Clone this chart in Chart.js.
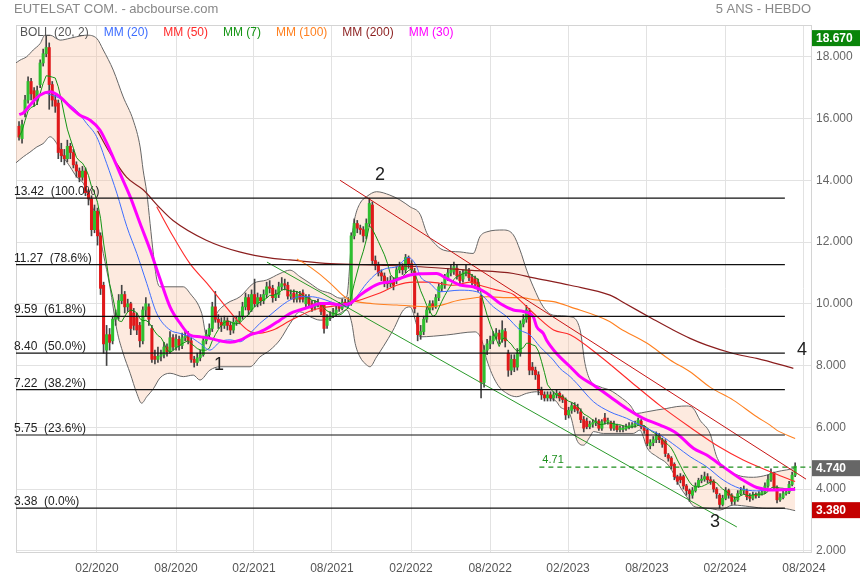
<!DOCTYPE html>
<html>
<head>
<meta charset="utf-8">
<title>EUTELSAT COM. - 5 ANS - HEBDO</title>
<script src="https://cdn.jsdelivr.net/npm/chart.js@4.4.1/dist/chart.umd.min.js"></script>
<style>
  html, body { margin: 0; padding: 0; background: #fff; }
  #wrap { width: 860px; height: 580px; }
</style>
</head>
<body>
<div id="wrap"><canvas id="myChart" width="860" height="580"></canvas></div>
<script>
// weekly candles, week 0 = early Aug 2019
const opens = [
  15.75, 15.35, 16.20, 16.60, 17.20, 16.90, 16.60, 17.10, 17.80, 18.10,
  18.30, 17.10, 16.60, 16.50, 15.00, 14.80, 14.70, 15.10, 14.90, 14.50,
  14.30, 14.10, 14.30, 13.60, 13.40, 12.40, 13.00, 12.20, 10.60, 8.50,
  9.00, 8.80, 9.50, 9.60, 10.10, 10.30, 9.90, 10.00, 9.70, 9.55,
  9.30, 8.80, 9.80, 9.90, 9.20, 8.30, 8.20, 8.30, 8.35, 8.60,
  8.45, 8.90, 8.60, 8.85, 8.65, 8.90, 8.95, 8.80, 8.20, 8.10,
  8.25, 8.35, 8.80, 9.00, 9.20, 9.90, 9.50, 9.40, 9.30, 9.45,
  9.30, 9.15, 9.40, 9.45, 9.60, 9.90, 10.20, 9.80, 10.30, 10.00,
  10.20, 10.10, 10.30, 10.55, 10.50, 10.20, 10.30, 10.55, 10.65, 10.60,
  10.25, 10.35, 10.15, 10.30, 10.35, 10.00, 10.20, 10.00, 9.90, 10.00,
  9.95, 9.95, 9.30, 9.55, 9.60, 9.70, 9.95, 9.85, 10.05, 10.00,
  10.00, 12.20, 12.60, 12.45, 12.40, 12.20, 12.60, 13.20, 11.40, 11.25,
  11.00, 10.90, 10.70, 10.65, 10.75, 10.75, 11.10, 11.20, 11.10, 11.50,
  11.30, 11.05, 9.60, 9.00, 9.10, 9.50, 9.80, 10.00, 9.90, 10.20,
  10.50, 10.60, 10.85, 11.00, 11.05, 11.15, 10.95, 10.80, 11.00, 11.05,
  10.85, 10.80, 10.70, 10.25, 7.45, 8.50, 8.70, 8.80, 8.95, 9.05,
  8.85, 9.10, 8.40, 7.85, 8.20, 7.95, 8.40, 9.35, 9.50, 9.75,
  7.95, 7.85, 7.70, 7.20, 7.05, 6.95, 7.05, 6.95, 7.05, 7.10,
  7.00, 6.90, 6.40, 6.55, 6.70, 6.65, 6.50, 6.25, 6.20, 6.02,
  6.10, 6.15, 6.20, 5.97, 6.30, 6.18, 6.15, 5.97, 6.05, 5.92,
  5.93, 5.95, 6.00, 6.03, 6.08, 6.10, 6.20, 6.02, 5.90, 5.40,
  5.50, 5.60, 5.72, 5.60, 5.55, 5.10, 5.00, 4.80, 4.40, 4.40,
  4.40, 4.10, 3.95, 3.80, 3.95, 4.10, 4.28, 4.32, 4.40, 4.30,
  4.25, 4.00, 3.80, 3.50, 3.70, 3.95, 3.80, 3.60, 3.65, 3.85,
  3.95, 3.95, 3.75, 3.70, 3.80, 3.78, 3.85, 3.90, 4.10, 4.30,
  4.50, 4.05, 3.65, 3.72, 3.85, 3.90, 4.15, 4.45
];
const closes = [
  15.40, 15.80, 16.60, 17.20, 16.80, 16.60, 16.90, 17.80, 18.10, 18.30,
  17.10, 16.60, 16.40, 14.90, 14.80, 14.70, 15.10, 14.90, 14.50, 14.30,
  14.10, 14.30, 13.60, 13.40, 12.40, 13.00, 12.20, 10.50, 8.70, 9.00,
  8.75, 9.50, 9.60, 10.10, 10.30, 9.90, 10.00, 9.20, 9.30, 9.15,
  8.80, 9.80, 10.00, 9.50, 8.20, 8.20, 8.30, 8.35, 8.60, 8.45,
  8.90, 8.60, 8.85, 8.65, 8.90, 8.95, 8.80, 8.20, 8.10, 8.25,
  8.35, 8.80, 9.00, 9.20, 9.90, 9.50, 9.40, 9.30, 9.45, 9.30,
  9.15, 9.40, 9.45, 9.60, 9.90, 10.20, 9.80, 10.30, 10.00, 10.20,
  10.10, 10.30, 10.55, 10.50, 10.20, 10.30, 10.55, 10.65, 10.60, 10.25,
  10.30, 10.15, 10.30, 10.15, 10.15, 10.20, 10.00, 9.85, 10.00, 10.05,
  9.75, 9.20, 9.55, 9.60, 9.70, 9.80, 9.85, 10.05, 10.00, 10.05,
  12.20, 12.60, 12.45, 12.40, 12.20, 12.60, 13.25, 11.40, 11.25, 11.00,
  10.90, 10.70, 10.65, 10.75, 10.60, 11.10, 11.20, 11.10, 11.50, 11.30,
  11.10, 9.85, 9.00, 9.10, 9.50, 9.80, 10.00, 9.90, 10.20, 10.55,
  10.60, 10.85, 11.00, 11.10, 11.20, 10.90, 10.75, 11.00, 11.10, 10.85,
  10.70, 10.65, 10.55, 7.45, 8.50, 8.70, 8.80, 8.95, 9.05, 8.85,
  9.15, 8.80, 7.85, 8.20, 7.95, 8.40, 9.35, 9.50, 9.80, 7.85,
  7.85, 7.70, 7.20, 7.05, 6.95, 7.05, 6.95, 7.05, 7.10, 6.95,
  6.90, 6.40, 6.55, 6.70, 6.60, 6.55, 6.25, 5.97, 6.02, 6.10,
  6.15, 6.20, 5.97, 6.18, 6.20, 6.22, 5.97, 6.10, 5.92, 5.98,
  5.97, 6.00, 6.05, 6.08, 6.12, 6.23, 6.02, 5.90, 5.48, 5.50,
  5.60, 5.72, 5.60, 5.45, 5.15, 5.00, 4.75, 4.40, 4.25, 4.30,
  4.10, 3.95, 3.85, 3.95, 4.10, 4.28, 4.32, 4.40, 4.30, 4.25,
  4.00, 3.85, 3.50, 3.70, 3.95, 3.80, 3.60, 3.65, 3.85, 3.95,
  4.00, 3.75, 3.70, 3.80, 3.78, 3.85, 3.90, 4.10, 4.30, 4.50,
  4.05, 3.65, 3.72, 3.85, 3.90, 4.15, 4.45, 4.74
];
const highs = [
  15.90, 15.95, 16.75, 17.35, 17.30, 17.00, 17.05, 17.90, 18.25, 18.67,
  18.45, 17.20, 16.75, 16.60, 15.20, 15.00, 15.30, 15.20, 15.00, 14.60,
  14.40, 14.45, 14.40, 13.70, 13.50, 13.20, 13.10, 12.30, 10.70, 9.30,
  9.20, 9.60, 9.80, 10.30, 10.60, 10.40, 10.15, 10.05, 9.85, 9.70,
  9.40, 9.90, 10.20, 10.00, 9.30, 8.50, 8.60, 8.50, 8.75, 8.70,
  9.10, 9.00, 9.00, 8.95, 9.05, 9.15, 9.10, 8.90, 8.30, 8.40,
  8.50, 8.95, 9.15, 9.35, 10.05, 10.40, 9.65, 9.55, 9.60, 9.55,
  9.40, 9.55, 9.60, 9.75, 10.05, 10.35, 10.30, 10.45, 10.80, 10.35,
  10.30, 10.45, 10.70, 10.75, 10.60, 10.45, 10.70, 10.85, 10.80, 10.70,
  10.45, 10.45, 10.40, 10.40, 10.45, 10.30, 10.30, 10.10, 10.10, 10.15,
  10.05, 10.00, 9.65, 9.75, 9.85, 9.95, 10.05, 10.15, 10.15, 10.20,
  12.30, 12.75, 12.70, 12.55, 12.50, 12.75, 13.42, 13.30, 11.55, 11.35,
  11.10, 11.00, 10.85, 10.90, 10.85, 11.20, 11.35, 11.30, 11.60, 11.55,
  11.40, 11.15, 9.70, 9.30, 9.60, 9.90, 10.10, 10.10, 10.30, 10.65,
  10.70, 10.95, 11.15, 11.25, 11.35, 11.25, 11.05, 11.10, 11.25, 11.15,
  10.95, 10.90, 10.80, 10.30, 8.65, 8.85, 8.95, 9.10, 9.20, 9.15,
  9.45, 9.20, 8.50, 8.35, 8.35, 8.55, 9.45, 9.65, 9.95, 9.85,
  8.10, 7.95, 7.80, 7.30, 7.15, 7.15, 7.15, 7.15, 7.20, 7.15,
  7.05, 6.95, 6.65, 6.80, 6.80, 6.75, 6.60, 6.35, 6.30, 6.20,
  6.25, 6.30, 6.25, 6.25, 6.45, 6.30, 6.20, 6.20, 6.10, 6.05,
  6.05, 6.10, 6.15, 6.15, 6.20, 6.30, 6.25, 6.05, 5.95, 5.60,
  5.70, 5.85, 5.80, 5.65, 5.60, 5.15, 5.05, 4.85, 4.45, 4.50,
  4.45, 4.15, 4.00, 4.05, 4.20, 4.35, 4.45, 4.55, 4.50, 4.40,
  4.30, 4.05, 3.85, 3.80, 4.05, 4.00, 3.85, 3.75, 3.95, 4.05,
  4.10, 4.00, 3.85, 3.90, 3.88, 3.92, 3.98, 4.20, 4.45, 4.65,
  4.55, 4.10, 3.85, 3.95, 4.00, 4.25, 4.55, 4.85
];
const lows = [
  15.30, 15.20, 16.05, 16.50, 16.60, 16.40, 16.45, 17.00, 17.70, 18.00,
  16.30, 16.40, 16.20, 14.70, 14.60, 14.50, 14.60, 14.70, 14.40, 14.10,
  13.95, 14.00, 13.50, 13.20, 12.20, 12.30, 11.90, 10.30, 8.40, 8.00,
  8.50, 8.70, 9.30, 9.50, 10.00, 9.70, 9.75, 9.00, 9.15, 9.00,
  8.60, 8.70, 9.60, 9.30, 8.10, 8.05, 8.10, 8.15, 8.25, 8.30,
  8.40, 8.50, 8.50, 8.50, 8.55, 8.80, 8.70, 8.10, 7.95, 8.00,
  8.15, 8.30, 8.70, 8.90, 9.10, 9.40, 9.20, 9.10, 9.20, 9.15,
  9.00, 9.05, 9.30, 9.35, 9.50, 9.80, 9.65, 9.75, 9.90, 9.90,
  9.95, 10.00, 10.20, 10.35, 10.05, 10.10, 10.20, 10.45, 10.45, 10.15,
  10.15, 10.05, 10.05, 10.05, 10.05, 9.90, 9.90, 9.75, 9.80, 9.90,
  9.65, 9.05, 9.20, 9.45, 9.55, 9.60, 9.75, 9.80, 9.90, 9.90,
  9.95, 12.10, 12.30, 12.25, 12.00, 12.10, 12.50, 11.30, 11.10, 10.90,
  10.75, 10.55, 10.50, 10.55, 10.45, 10.65, 11.00, 10.95, 11.00, 11.15,
  11.00, 9.70, 8.80, 8.85, 9.00, 9.40, 9.70, 9.80, 9.85, 10.10,
  10.40, 10.50, 10.75, 10.90, 10.95, 10.80, 10.60, 10.70, 10.90, 10.75,
  10.60, 10.50, 10.40, 6.95, 7.30, 8.35, 8.55, 8.70, 8.85, 8.70,
  8.75, 8.60, 7.65, 7.70, 7.80, 7.85, 8.30, 9.25, 9.40, 7.70,
  7.70, 7.55, 7.05, 6.90, 6.85, 6.85, 6.85, 6.85, 6.95, 6.85,
  6.80, 6.25, 6.30, 6.45, 6.50, 6.45, 6.15, 5.85, 5.95, 5.95,
  6.00, 6.05, 5.90, 5.90, 6.10, 6.10, 5.90, 5.90, 5.85, 5.85,
  5.85, 5.90, 5.95, 5.98, 6.00, 6.05, 5.95, 5.80, 5.40, 5.30,
  5.40, 5.50, 5.50, 5.35, 5.05, 4.90, 4.65, 4.30, 4.15, 4.20,
  4.00, 3.80, 3.60, 3.70, 3.90, 4.05, 4.20, 4.25, 4.20, 4.15,
  3.90, 3.70, 3.38, 3.45, 3.65, 3.70, 3.50, 3.50, 3.60, 3.80,
  3.85, 3.65, 3.60, 3.65, 3.70, 3.72, 3.80, 3.85, 4.05, 4.25,
  3.95, 3.55, 3.60, 3.68, 3.80, 3.85, 4.10, 4.40
];

// indicator lines: [week, value]
const bollUpper = [[-1.2,17.79],[0.3,17.89],[2.5,18.0],[4.7,18.22],[7,18.43],[8.6,18.7],[10.3,18.7],[13.6,18.54],[16.9,18.6],[19.1,18.65],[22.4,18.7],[25.7,18.6],[27.9,18.22],[31.2,17.57],[34.5,16.7],[37.8,15.95],[40.1,15.08],[41.1,14.33],[42.3,13.6],[43.4,12.6],[44.5,11.6],[45.6,10.8],[46.7,10.55],[54.4,10.55],[56.6,10.34],[60.5,9.69],[62.2,8.93],[65.5,9.69],[68.8,10.01],[73.2,10.23],[77.6,10.66],[82,10.77],[86.4,10.98],[89.7,11.09],[93,10.88],[96.4,10.66],[99.7,10.44],[103,10.34],[106.3,10.18],[108.5,10.23],[110.2,12.17],[111.3,12.82],[112.9,13.25],[115.1,13.47],[118.4,13.63],[122.8,13.52],[126.2,13.36],[129.5,13.14],[132.8,12.9],[135,12.3],[137.2,12.0],[140.5,11.74],[146,11.68],[150.4,11.63],[152.6,12.17],[154.9,12.33],[160.4,12.39],[163.7,12.23],[165.9,11.74],[168.1,11.09],[170.3,10.55],[173.6,9.9],[176.9,9.63],[182.5,9.58],[185.8,9.15],[187.4,8.07],[189.1,7.53],[192.4,7.31],[195.7,7.2],[199,6.99],[202.3,6.72],[204.5,6.45],[207.8,6.5],[211.2,6.56],[214.5,6.61],[217.8,6.67],[221.1,6.69],[223.3,6.61],[225.5,6.23],[228.8,5.8],[231,5.05],[233.2,4.72],[236.5,4.51],[239.8,4.4],[243.2,4.38],[247.6,4.45],[250.9,4.56],[254.2,4.62],[257,4.67]];
const bollLower = [[-1.2,14.55],[1.4,14.76],[3.6,14.91],[5.9,15.08],[8,15.19],[10.3,15.41],[12.5,15.19],[14.7,14.76],[16.9,14.44],[19.1,14.11],[21.3,13.9],[23.5,13.36],[25.7,12.71],[27.9,11.63],[30.1,10.55],[32.4,9.15],[34.5,8.39],[36.8,7.75],[39,7.1],[40.6,6.78],[42.3,6.99],[44.5,7.25],[46.7,7.6],[50,7.75],[54.4,7.64],[57.7,7.69],[59.9,7.53],[63.2,7.85],[66.6,7.96],[76.5,7.96],[79.8,8.28],[83.1,8.5],[86.4,8.83],[89.7,9.35],[93,9.74],[96.4,9.58],[99.7,9.47],[103,9.52],[106.3,9.69],[108.5,9.8],[110.2,9.37],[111.3,8.72],[112.9,8.28],[115.1,8.02],[116.2,7.96],[118.4,8.28],[120.6,8.61],[123.9,9.15],[127.3,9.8],[129.5,9.9],[131.7,9.3],[132.8,8.93],[141.6,8.99],[151,9.09],[153.2,8.83],[154.9,8.18],[158.2,7.42],[161.5,7.1],[164.8,6.99],[168.1,7.1],[171.4,7.15],[174.7,6.99],[178,6.83],[179.1,6.67],[182.5,6.4],[184.7,5.59],[186.9,5.42],[189.1,5.7],[190.2,5.86],[193.5,5.8],[203.4,5.8],[205.6,5.91],[206.7,5.7],[207.8,5.37],[211.2,5.05],[214.5,4.83],[216.7,4.51],[218.9,4.07],[221.1,3.75],[223.3,3.45],[225.5,3.4],[228.8,3.37],[232.1,3.32],[236.5,3.48],[242,3.43],[247.6,3.37],[253.1,3.37],[257,3.3]];
const mm20 = [[8,16.85],[13.6,16.65],[19.1,16.25],[22.4,15.84],[25.7,15.41],[29,14.55],[32.4,13.58],[35.7,12.5],[39,11.63],[42.3,10.66],[45.6,9.69],[50,9.15],[53.3,9.04],[56.6,8.93],[59.9,8.72],[63.2,8.5],[66.6,8.77],[69.9,8.83],[73.2,8.77],[76.5,9.04],[79.8,9.37],[83.1,9.63],[86.4,9.9],[89.7,10.12],[93,10.23],[96.4,10.23],[99.7,10.18],[103,10.07],[106.3,9.96],[108.5,9.9],[111.8,10.23],[115.1,10.66],[118.4,10.98],[121.8,11.15],[125.1,11.2],[128.9,11.5],[131.7,11.2],[132.8,10.9],[136.1,10.66],[139.4,10.39],[146,10.44],[151.6,10.39],[157.1,9.9],[161.5,9.58],[165.9,9.15],[169.2,8.99],[172.5,8.61],[176.9,8.18],[179.1,7.91],[182.5,7.64],[184.7,7.42],[190.2,6.83],[195.7,6.5],[201.2,6.29],[206.7,6.02],[212.3,5.75],[217.8,5.37],[222.2,5.05],[227.7,4.72],[233.2,4.29],[238.7,4.02],[244.3,3.94],[249.8,3.97],[257,3.97]];
const mm30 = [[0.1,16.13],[1.4,16.18],[3.6,16.43],[7,16.76],[10.3,16.87],[13.6,16.7],[16.9,16.38],[20.2,16.11],[23.5,15.95],[26.8,15.63],[30.1,14.98],[33.4,14.23],[36.8,13.47],[40.1,12.6],[43.4,11.75],[46.7,10.8],[50,9.9],[53.3,9.37],[56.6,8.99],[59.9,8.93],[63.2,8.88],[66.6,8.8],[69.9,8.75],[73.2,8.82],[76.5,8.99],[79.8,9.09],[83.1,9.26],[86.4,9.47],[89.7,9.68],[93,9.8],[96.4,9.9],[99.7,10.01],[103,10.01],[106.3,9.96],[109.6,10.01],[112.9,10.28],[116.2,10.5],[119.5,10.66],[122.8,10.71],[126.2,10.82],[129.5,10.93],[132.8,10.97],[138.3,10.98],[141.6,10.82],[146,10.61],[150.4,10.55],[154.9,10.34],[159.3,10.01],[163.7,9.8],[167,9.75],[170.3,9.58],[171.4,9.26],[173.6,9.04],[174.7,8.82],[178,8.39],[182.5,7.96],[185.8,7.64],[190.2,7.37],[195.7,6.99],[201.2,6.61],[206.7,6.29],[212.3,6.07],[217.8,5.8],[223.3,5.32],[227.7,5.1],[233.2,4.72],[238.7,4.35],[244.3,4.05],[249.8,3.97],[257,3.99]];
const mm50 = [[45.6,13.14],[51.1,12.17],[56.6,11.3],[62.2,10.67],[67.7,10.0],[73.2,9.37],[76.5,9.1],[79.8,9.05],[84.1,9.15],[89.7,9.45],[97.4,9.8],[108.5,10.0],[119.5,10.35],[125.1,10.6],[130.5,10.7],[136.1,10.7],[143.8,10.6],[149.3,10.7],[152.6,10.6],[158,10.45],[163.7,10.3],[166,10.1],[171.4,9.6],[177,9.15],[182.5,9.0],[192.4,8.3],[202.3,7.5],[212.3,6.7],[222.2,6.0],[232.1,5.35],[239.8,4.94],[249.8,4.52],[257,4.24]];
const mm100 = [[92,11.45],[94.7,11.3],[99,11.0],[103,10.67],[108.5,10.18],[117.2,10.0],[125.1,9.96],[136.1,9.9],[146,10.12],[155,10.23],[160.4,10.2],[166,10.2],[171.4,10.12],[177,10.07],[182.5,9.9],[195.7,9.42],[199,9.2],[208,8.72],[215.6,8.18],[222.2,7.8],[228.8,7.3],[236.5,6.88],[244.3,6.34],[248.7,6.07],[251,5.9],[257,5.64]];
const mm200 = [[26,15.6],[30,14.9],[35.6,14.1],[41,13.7],[46.7,13.1],[51,12.7],[62,12.06],[73,11.68],[84,11.47],[89.7,11.42],[103,11.3],[119.5,11.25],[132.8,11.2],[149,11.09],[163.7,10.98],[170,10.85],[182.5,10.6],[195.7,10.28],[200,10.05],[210,9.5],[216.6,9.15],[222.2,8.88],[227.7,8.66],[236.5,8.39],[244.3,8.23],[256.4,7.91]];

// drawing tools
const fibLevels = [13.42, 11.27, 9.59, 8.40, 7.22, 5.75, 3.38];
const fibPcts = [100.0, 78.6, 61.8, 50.0, 38.2, 23.6, 0.0];
const fibWeeks = [-1, 253.6];
const redTrend = [[106.3, 14.0], [260.6, 4.32]];
const greenTrend = [[82.1, 11.35], [237.7, 2.77]];
const lastMark = 4.71;
const lastMarkWeeks = [172.3, 262.2];
const waveLabels = ['1', '2', '3', '4'];
const waveWeeks = [66.2, 119.5, 230.5, 259.3];
const waveValues = [8.0, 14.17, 2.93, 8.5];

// axes
const dateTicks = [25.8, 52.0, 77.8, 103.6, 129.8, 156.0, 181.8, 207.9, 233.8, 259.9];
const dateLabels = ['02/2020', '08/2020', '02/2021', '08/2021', '02/2022', '08/2022', '02/2023', '08/2023', '02/2024', '08/2024'];
const priceTicks = [2, 4, 6, 8, 10, 12, 14, 16, 18];
const legendNames = ['BOLL (20, 2)', 'MM (20)', 'MM (50)', 'MM (7)', 'MM (100)', 'MM (200)', 'MM (30)'];
const priceHigh = 18.67, priceLast = 4.74, priceLow = 3.38;

const FONT = 'Arial, "Liberation Sans", sans-serif';
const C = {
  boll: '#666666', mm20: '#3d6dff', mm50: '#ff2a2a', mm7: '#149414',
  mm100: '#ff8020', mm200: '#8b1e1e', mm30: '#ff00ff',
  up: '#2fbf2f', down: '#e0191b'
};
const legendColors = ['#555555', C.mm20, C.mm50, C.mm7, C.mm100, C.mm200, C.mm30];

Chart.defaults.font.family = FONT;
Chart.defaults.font.size = 12;

const pts = arr => arr.map(([w, v]) => ({ x: w, y: v }));
const line = (label, arr, color, width, order, extra) => Object.assign({
  type: 'line', label, data: pts(arr), borderColor: color, borderWidth: width,
  pointRadius: 0, fill: false, cubicInterpolationMode: 'monotone', order
}, extra || {});

// MM(7) from the weekly closes
const mm7 = closes.map((c, i) => {
  const s = closes.slice(Math.max(0, i - 6), i + 1);
  return [i, s.reduce((a, b) => a + b, 0) / s.length];
});

const candleColor = ctx => closes[ctx.dataIndex] >= opens[ctx.dataIndex] ? C.up : C.down;

const datasets = [
  line('BOLL haut', bollUpper, C.boll, 1, 20, { fill: '+1', backgroundColor: 'rgba(248,190,155,0.32)' }),
  line('BOLL bas', bollLower, C.boll, 1, 19),
  {
    type: 'bar', label: 'mèches', grouped: false, order: 12, barThickness: 1,
    data: closes.map((c, i) => ({ x: i, y: [lows[i], highs[i]] })),
    backgroundColor: '#444'
  },
  {
    type: 'bar', label: 'cours', grouped: false, order: 11, barThickness: 2.4, minBarLength: 1,
    data: closes.map((c, i) => ({ x: i, y: [opens[i], closes[i]] })),
    backgroundColor: candleColor
  },
  line('MM (200)', mm200, C.mm200, 1.2, 9),
  line('MM (100)', mm100, C.mm100, 1.1, 8),
  line('MM (50)', mm50, C.mm50, 1.1, 7),
  line('MM (7)', mm7, C.mm7, 1, 6, { cubicInterpolationMode: 'default', tension: 0 }),
  line('MM (20)', mm20, C.mm20, 1, 5),
  line('MM (30)', mm30, C.mm30, 3, 4),
  line('tendance baissière', redTrend, '#c81414', 1, 2),
  line('canal', greenTrend, '#2a9a2a', 1, 2),
  line('dernier', lastMarkWeeks.map(w => [w, lastMark]), '#1e8f1e', 1.2, 2, { borderDash: [5, 4] })
];
fibLevels.forEach(lvl => datasets.push(line('fibo ' + lvl, fibWeeks.map(w => [w, lvl]), '#111', 1.2, 1)));

const overlay = {
  id: 'overlay',
  beforeDatasetsDraw(chart) {
    const { ctx, chartArea: a } = chart;
    ctx.save();
    ctx.strokeStyle = '#d4d4d4';
    ctx.lineWidth = 1;
    ctx.strokeRect(a.left + 0.5, a.top + 0.5, a.right - a.left, a.bottom - a.top);
    ctx.restore();
  },
  afterDatasetsDraw(chart) {
    const { ctx, chartArea: a, scales: { x, y } } = chart;
    ctx.save();
    // fibonacci labels
    ctx.font = '12px ' + FONT;
    ctx.fillStyle = '#222';
    ctx.textAlign = 'left';
    ctx.textBaseline = 'alphabetic';
    fibLevels.forEach((lvl, k) => {
      ctx.fillText(lvl.toFixed(2) + '  (' + fibPcts[k].toFixed(1) + '%)', a.left - 2, y.getPixelForValue(lvl) - 3);
    });
    // last mark label
    ctx.font = '11px ' + FONT;
    ctx.fillStyle = '#1e8f1e';
    ctx.fillText(lastMark.toFixed(2), x.getPixelForValue(lastMarkWeeks[0]) + 3, y.getPixelForValue(lastMark) - 4);
    // wave counts
    ctx.font = '18px ' + FONT;
    ctx.fillStyle = '#222';
    ctx.textAlign = 'center';
    ctx.textBaseline = 'middle';
    waveLabels.forEach((t, k) => ctx.fillText(t, x.getPixelForValue(waveWeeks[k]), y.getPixelForValue(waveValues[k])));
    // legend
    ctx.font = '12px ' + FONT;
    ctx.textAlign = 'left';
    let lx = a.left + 4;
    legendNames.forEach((t, k) => {
      ctx.fillStyle = legendColors[k];
      ctx.fillText(t, lx, a.top + 8);
      lx += ctx.measureText(t).width + 15;
    });
    ctx.restore();
  },
  afterDraw(chart) {
    const { ctx, chartArea: a, scales: { y } } = chart;
    ctx.save();
    ctx.font = '13px ' + FONT;
    ctx.fillStyle = '#888';
    ctx.textBaseline = 'middle';
    ctx.textAlign = 'left';
    ctx.fillText('EUTELSAT COM. - abcbourse.com', 14, 9);
    ctx.textAlign = 'right';
    ctx.fillText('5 ANS - HEBDO', a.right, 9);
    // price badges
    ctx.font = 'bold 12px ' + FONT;
    ctx.textAlign = 'left';
    [[priceHigh, '#0a850a'], [priceLast, '#666666'], [priceLow, '#c40000']].forEach(([v, col]) => {
      const py = y.getPixelForValue(v) + 2;
      ctx.fillStyle = col;
      ctx.fillRect(a.right + 1, py - 8, 48, 16);
      ctx.fillStyle = '#fff';
      ctx.fillText(v.toFixed(3), a.right + 5, py + 1);
    });
    ctx.restore();
  }
};

new Chart(document.getElementById('myChart'), {
  type: 'line',
  data: { datasets },
  options: {
    responsive: false,
    animation: false,
    devicePixelRatio: 1,
    layout: { padding: { left: 16, top: 25, right: 0, bottom: 0 } },
    plugins: { legend: { display: false }, tooltip: { enabled: false } },
    scales: {
      x: {
        type: 'linear', min: -1, max: 262.25, offset: false,
        afterBuildTicks: s => { s.ticks = dateTicks.map(v => ({ value: v })); },
        afterFit: s => { s.height = 28; },
        ticks: { callback: (v, k) => dateLabels[k], color: '#555', padding: 9, maxRotation: 0, autoSkip: false },
        grid: { color: '#e2e2e2', drawTicks: false, offset: false },
        border: { color: '#d4d4d4' }
      },
      y: {
        type: 'linear', position: 'right', min: 1.96, max: 19.03,
        afterBuildTicks: s => { s.ticks = priceTicks.map(v => ({ value: v })); },
        afterFit: s => { s.width = 49; },
        ticks: { callback: v => v.toFixed(3), color: '#666', padding: 5 },
        grid: { color: '#e2e2e2', drawTicks: false },
        border: { color: '#d4d4d4' }
      }
    }
  },
  plugins: [overlay]
});
</script>
</body>
</html>
